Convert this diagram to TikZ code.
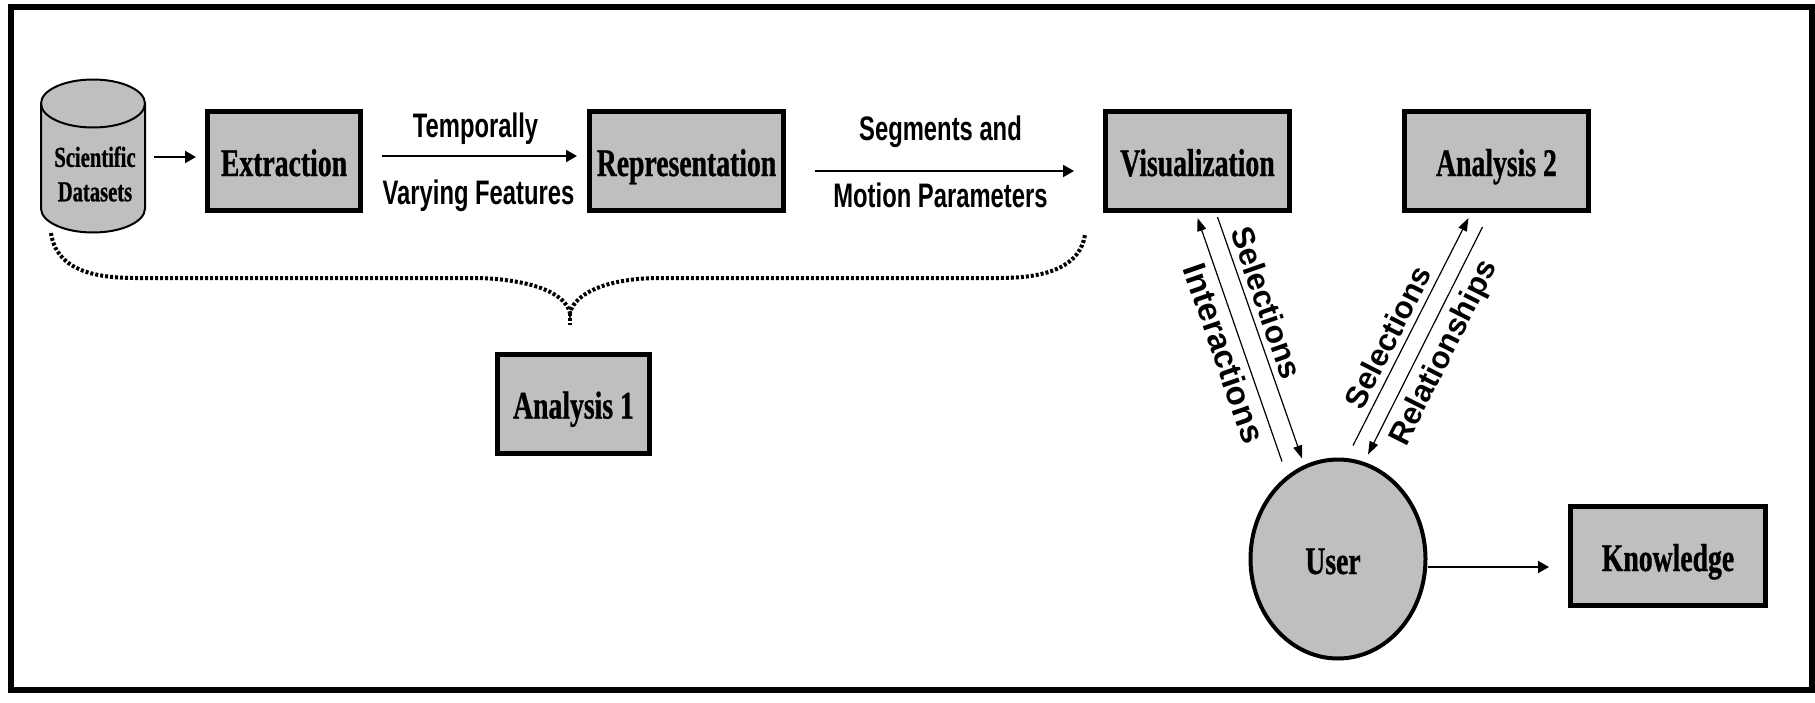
\documentclass[tikz,border=0pt]{standalone}
\usepackage{fontspec}
\setmainfont{Liberation Serif}
\newfontfamily\boxfont[FakeStretch=0.71, BoldFeatures={FakeBold=0.8}]{Liberation Serif}
\newfontfamily\flowfont[FakeStretch=0.7]{Liberation Sans}
\newfontfamily\slantfont{Liberation Sans}
\usepackage{xcolor}
\definecolor{colorBox}{gray}{0.75}
\usetikzlibrary{arrows.meta, shapes.geometric, positioning}
\tikzset{
  stage/.style={draw=black, fill=colorBox, line width=2.5pt, inner sep=1pt, minimum height=49.5pt, text height=15pt, text depth=0pt, font=\boxfont\bfseries\fontsize{19.5}{21}\selectfont},
  flowlabel/.style={font=\flowfont\bfseries\fontsize{17}{19}\selectfont},
  slantlabel/.style={font=\slantfont\bfseries\fontsize{#1}{19}\selectfont, sloped, inner sep=3pt},
  slantarrow/.style={-{Stealth[inset=0pt, length=6.5pt, width=4.5pt]}, line width=0.6pt},
  capArc/.style={x radius=26pt, y radius=12pt}
}
\begin{document}
\begin{tikzpicture}[x=0.5pt, y=-0.5pt, >={Stealth[inset=0pt, length=5.5pt, width=6pt]}, line width=1pt]
\useasboundingbox (0,0) rectangle (1815,702);
\draw[line width=3pt] (10.5,7) rectangle (1812,690);
\node[minimum width=52pt, minimum height=76.5pt, inner sep=0pt, outer sep=0pt] (datasets) at (93,156) {};
\draw[fill=colorBox] ([yshift=-12pt]datasets.north west) -- ([yshift=12pt]datasets.south west) arc[start angle=180, end angle=360, capArc] -- ([yshift=-12pt]datasets.north east) arc[start angle=0, end angle=180, capArc] -- cycle;
\draw ([yshift=-12pt]datasets.north west) arc[start angle=180, end angle=360, capArc];
\node[font=\boxfont\bfseries\fontsize{14.5}{17.2}\selectfont, align=center] (datasetsText) at ([shift={(1pt,-9pt)}]datasets.center) {Scientific\\Datasets};
\node[stage, minimum width=76.5pt] (extraction) at (284,161) {Extraction};
\node[stage, minimum width=97pt, right of=extraction, node distance=201.25pt] (representation) {Representation};
\node[stage, minimum width=92pt, right of=representation, node distance=255.5pt] (visualization) {Visualization};
\node[stage, minimum width=92pt, right of=visualization, node distance=149.5pt] (analysisB) {Analysis 2};
\node[stage, minimum width=76pt] (analysisA) at (573.5,403.5) {Analysis 1};
\node[draw=black, fill=colorBox, ellipse, line width=2pt, minimum width=87.5pt, minimum height=99.5pt, inner sep=0pt, text height=15pt, text depth=0pt, font=\boxfont\bfseries\fontsize{19.5}{21}\selectfont] (user) at (1338,559) {\hspace{-5pt}User};
\node[stage, minimum width=97.5pt, right of=user, node distance=165pt, yshift=1.5pt] (knowledge) {Knowledge};
\coordinate (braceL) at (51,233);
\coordinate (braceR) at (1085,235);
\coordinate (braceTip) at (570,313);
\draw[->] ([shift={(9,1)}]datasets.east) -- ([shift={(-9,-4)}]extraction.west);
\draw[->] ([shift={(19,-5)}]extraction.east) -- ([shift={(-10,-5)}]representation.west) node[flowlabel, midway, above=2pt, xshift=-2pt] {Temporally} node[flowlabel, midway, below=8pt, xshift=-0.5pt] {Varying Features};
\draw[->] ([shift={(29,10)}]representation.east) -- ([shift={(-29,10)}]visualization.west) node[flowlabel, midway, above=8pt, xshift=-2pt] {Segments and} node[flowlabel, midway, below=2pt, xshift=-2pt] {Motion Parameters};
\draw[slantarrow] ([shift={(-56,4)}]user.north) -- node[slantlabel=16.5, below, pos=.47] {Interactions} ([shift={(0,5)}]visualization.south);
\draw[slantarrow] ([shift={(20,4)}]visualization.south) -- node[slantlabel=15.8, above, pos=.38] {Selections} ([shift={(-36,1)}]user.north);
\draw[slantarrow] ([shift={(15,-12)}]user.north) -- node[slantlabel=15.5, above, pos=.44] {Selections} ([shift={(-28,5)}]analysisB.south);
\draw[slantarrow] ([shift={(-14,14)}]analysisB.south) -- node[slantlabel=15.5, below, pos=.51, inner sep=4pt] {Relationships} ([shift={(30,-3)}]user.north);
\draw[->] ([shift={(0,8)}]user.east) -- ([shift={(-19,11)}]knowledge.west);
\draw[line width=2pt, dash pattern=on 1.5pt off 1pt] (braceL) .. controls (56,268) and (90,278) .. (135,278) -- (480,278) .. controls (530,280) and (565,292) .. (braceTip) .. controls (575,292) and (610,278) .. (660,278) -- (1000,278) .. controls (1050,278) and (1080,265) .. (braceR);
\draw[line width=2pt, dash pattern=on 1.5pt off 1pt] (braceTip) -- ++(0,12);
\end{tikzpicture}
\end{document}
